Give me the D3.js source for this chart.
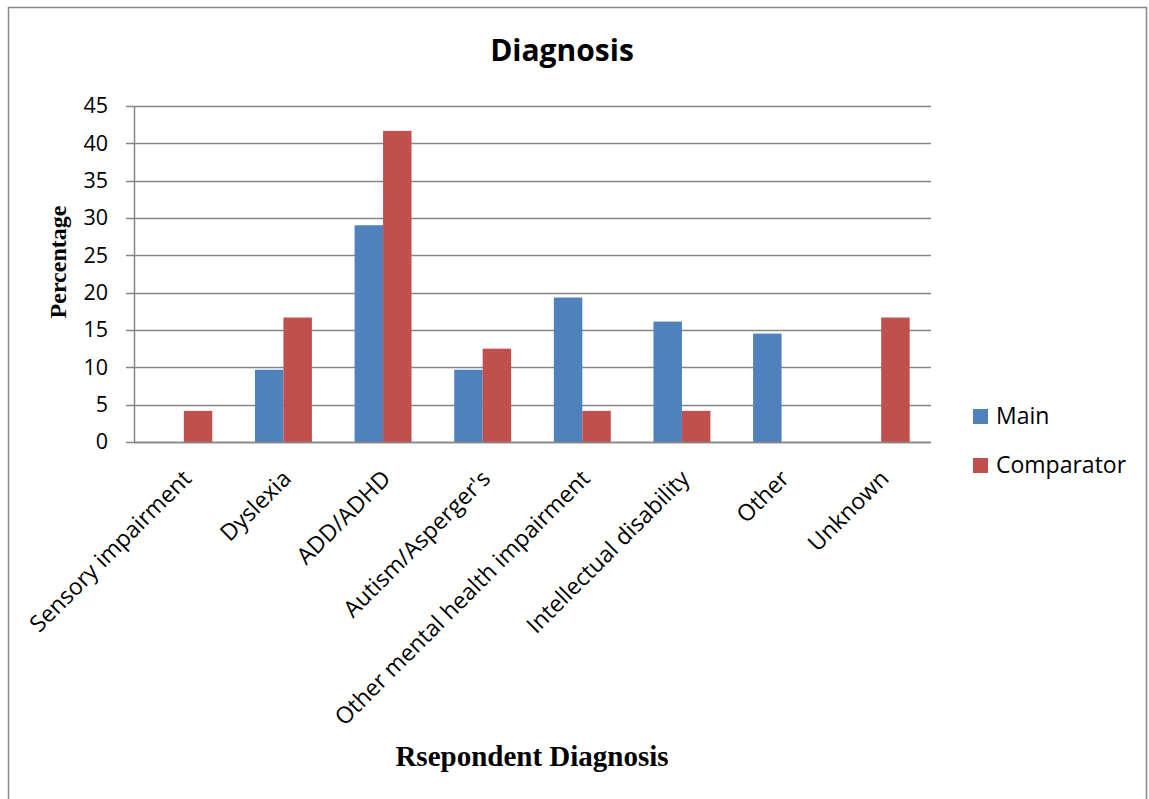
<!DOCTYPE html>
<html><head><meta charset="utf-8">
<script src="https://cdn.jsdelivr.net/npm/d3@7"></script>
<style>body{margin:0;background:#fff;}svg{display:block;}</style>
</head><body>
<svg id="chart" width="1149" height="799"></svg>
<script>
const categories = ["Sensory impairment","Dyslexia","ADD/ADHD","Autism/Asperger's","Other mental health impairment","Intellectual disability","Other","Unknown"];
const mainValues = [0, 9.68, 29.03, 9.68, 19.35, 16.13, 14.52, 0];
const comparatorValues = [4.17, 16.67, 41.67, 12.5, 4.17, 4.17, 0, 16.67];
const seriesNames = ["Main","Comparator"];
const seriesColors = ["#4F81BD","#C0504D"];
const yTicks = [0,5,10,15,20,25,30,35,40,45];

const svg = d3.select("#chart");
const plot = {left:134, right:931, top:106, bottom:442};
const sansFont = "'Open Sans', Lato, sans-serif";
const serifFont = "'Liberation Serif', 'DejaVu Serif', serif";

svg.append("rect").attr("x",8.5).attr("y",7.5).attr("width",1138).attr("height",800)
  .attr("fill","#fff").attr("stroke","#888").attr("stroke-width",1.5);

const x = d3.scaleBand().domain(categories).range([plot.left, plot.right]).paddingInner(0).paddingOuter(0);
const y = d3.scaleLinear().domain([0,45]).range([plot.bottom, plot.top]);
const x1 = d3.scaleBand().domain(seriesNames).range([0, x.bandwidth()]).paddingOuter(0.75).paddingInner(0);

// gridlines
svg.append("g").selectAll("line").data(yTicks).join("line")
  .attr("x1", plot.left-8).attr("x2", plot.right)
  .attr("y1", d=>Math.round(y(d))+0.5).attr("y2", d=>Math.round(y(d))+0.5)
  .attr("stroke","#868686").attr("stroke-width",1.5);

// y axis
const yAxis = d3.axisLeft(y).tickValues(yTicks).tickSize(0).tickPadding(26);
const gy = svg.append("g").attr("transform",`translate(${plot.left},0)`).call(yAxis);
gy.select(".domain").remove();
gy.selectAll("text").attr("font-family",sansFont).attr("font-size",21.5).attr("fill","#000");
svg.append("line").attr("x1",plot.left+0.5).attr("x2",plot.left+0.5)
  .attr("y1",plot.top).attr("y2",plot.bottom+1).attr("stroke","#868686").attr("stroke-width",1.5);

// bars
const data = categories.map((c,i)=>({c, vals:[mainValues[i], comparatorValues[i]]}));
const groups = svg.append("g").selectAll("g").data(data).join("g")
  .attr("transform", d=>`translate(${x(d.c)},0)`);
groups.selectAll("rect").data(d=>d.vals.map((v,j)=>({v, s:seriesNames[j], j})))
  .join("rect")
  .attr("x", d=>x1(d.s)).attr("width", x1.bandwidth())
  .attr("y", d=>y(d.v)).attr("height", d=>y(0)-y(d.v))
  .attr("fill", d=>seriesColors[d.j]);

// x axis baseline
svg.append("line").attr("x1",plot.left).attr("x2",plot.right)
  .attr("y1",plot.bottom+0.5).attr("y2",plot.bottom+0.5).attr("stroke","#868686").attr("stroke-width",1.5);

// x category labels
const xAxis = d3.axisBottom(x).tickSize(0).tickPadding(0);
const gx = svg.append("g").attr("transform",`translate(0,${plot.bottom})`).call(xAxis);
gx.select(".domain").remove();
gx.selectAll("text")
  .attr("font-family",sansFont).attr("font-size",23).attr("fill","#000")
  .attr("text-anchor","end").attr("dy",0).attr("y",0)
  .attr("transform","translate(9,38) rotate(-45)");

// title
svg.append("text").attr("x",562).attr("y",61).attr("text-anchor","middle")
  .attr("font-family",sansFont).attr("font-weight","bold").attr("font-size",30)
  .text("Diagnosis");

// axis titles
svg.append("text").attr("transform",`translate(66,262) rotate(-90)`).attr("text-anchor","middle")
  .attr("font-family",serifFont).attr("font-weight","bold").attr("font-size",24)
  .text("Percentage");
svg.append("text").attr("x",532).attr("y",766).attr("text-anchor","middle")
  .attr("font-family",serifFont).attr("font-weight","bold").attr("font-size",29)
  .text("Rsepondent Diagnosis");

// legend
const leg = svg.append("g").selectAll("g").data(seriesNames).join("g")
  .attr("transform",(d,i)=>`translate(973,${409+i*49})`);
leg.append("rect").attr("width",15).attr("height",15).attr("fill",(d,i)=>seriesColors[i]);
leg.append("text").attr("x",23).attr("y",15).attr("font-family",sansFont).attr("font-size",23)
  .attr("fill","#000").text(d=>d);
</script>
</body></html>
